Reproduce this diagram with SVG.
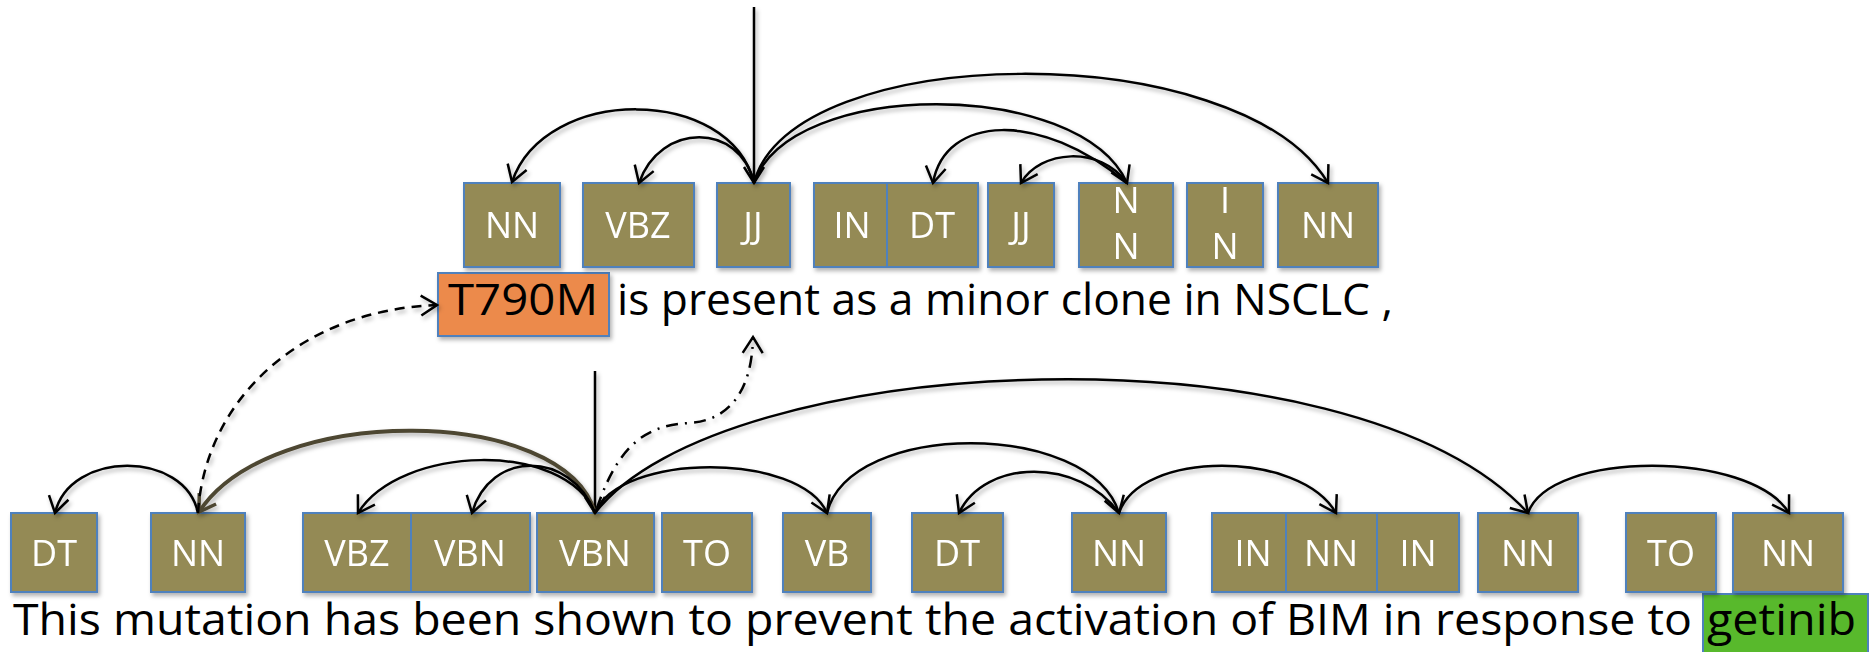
<svg xmlns="http://www.w3.org/2000/svg" width="1869" height="652" viewBox="0 0 1869 652">
  <style>
    .tag rect { fill: #948A54; stroke: #4F81BD; stroke-width: 2; }
    .tag text { fill: #FFFFFF; font-family: "Open Sans", "Noto Sans", sans-serif; font-size: 36px; text-anchor: middle; }
    .arc { fill: none; stroke: #000000; stroke-width: 2.5; marker-end: url(#head); }
    .dep { fill: none; stroke: #4D4631; stroke-width: 4; marker-end: url(#headBrown); }
    .dash { stroke-dasharray: 10 7; }
    .dashdot { stroke-dasharray: 12 7 2 7; }
    .sent { font-family: "Open Sans", "Noto Sans", sans-serif; font-size: 43px; fill: #000000; }
    .hl { stroke: #4F81BD; stroke-width: 2; }
  </style>
  <defs>
    <marker id="head" viewBox="-2 -2 20 24" refX="16" refY="10" markerWidth="20" markerHeight="24" markerUnits="userSpaceOnUse" orient="auto" overflow="visible">
      <path d="M0,0 L16,10 L0,20" fill="none" stroke="#000000" stroke-width="2.5" stroke-linejoin="miter"/>
    </marker>
    <marker id="headBrown" viewBox="-2 -2 20 24" refX="16" refY="10" markerWidth="20" markerHeight="24" markerUnits="userSpaceOnUse" orient="auto" overflow="visible">
      <path d="M0,0 L16,10 L0,20" fill="none" stroke="#4D4631" stroke-width="3.5"/>
    </marker>
    <filter id="shadow" x="-5%" y="-10%" width="110%" height="130%">
      <feDropShadow dx="2" dy="3" stdDeviation="2" flood-color="#000000" flood-opacity="0.3"/>
    </filter>
  </defs>

  <!-- sentence highlights -->
  <rect class="hl" x="438" y="273" width="171" height="63" fill="#EC8A4B" filter="url(#shadow)"/>
  <rect class="hl" x="1703" y="594" width="165" height="62" fill="#58B92C"/>

  <!-- upper parse: tag nodes -->
  <g filter="url(#shadow)">
    <g id="u1" class="tag"><rect x="464" y="183" width="96" height="84"/><text x="512" y="238">NN</text></g>
    <g id="u2" class="tag"><rect x="583" y="183" width="111" height="84"/><text x="638" y="238">VBZ</text></g>
    <g id="u3" class="tag"><rect x="717" y="183" width="73" height="84"/><text x="753" y="238">JJ</text></g>
    <g id="u4" class="tag"><rect x="814" y="183" width="79" height="84"/><text x="852" y="238">IN</text></g>
    <g id="u5" class="tag"><rect x="887" y="183" width="91" height="84"/><text x="932" y="238">DT</text></g>
    <g id="u6" class="tag"><rect x="988" y="183" width="66" height="84"/><text x="1021" y="238">JJ</text></g>
    <g id="u7" class="tag"><rect x="1079" y="183" width="94" height="84"/><text x="1126" y="213">N<tspan x="1126" y="259">N</tspan></text></g>
    <g id="u8" class="tag"><rect x="1187" y="183" width="76" height="84"/><text x="1225" y="213">I<tspan x="1225" y="259">N</tspan></text></g>
    <g id="u9" class="tag"><rect x="1278" y="183" width="100" height="84"/><text x="1328" y="238">NN</text></g>
  </g>

  <!-- lower parse: tag nodes -->
  <g filter="url(#shadow)">
    <g id="l1" class="tag"><rect x="11" y="513" width="86" height="79"/><text x="54" y="566">DT</text></g>
    <g id="l2" class="tag"><rect x="151" y="513" width="94" height="79"/><text x="198" y="566">NN</text></g>
    <g id="l3" class="tag"><rect x="303" y="513" width="108" height="79"/><text x="357" y="566">VBZ</text></g>
    <g id="l4" class="tag"><rect x="411" y="513" width="119" height="79"/><text x="470" y="566">VBN</text></g>
    <g id="l5" class="tag"><rect x="537" y="513" width="117" height="79"/><text x="595" y="566">VBN</text></g>
    <g id="l6" class="tag"><rect x="662" y="513" width="90" height="79"/><text x="707" y="566">TO</text></g>
    <g id="l7" class="tag"><rect x="783" y="513" width="88" height="79"/><text x="827" y="566">VB</text></g>
    <g id="l8" class="tag"><rect x="912" y="513" width="91" height="79"/><text x="957" y="566">DT</text></g>
    <g id="l9" class="tag"><rect x="1072" y="513" width="94" height="79"/><text x="1119" y="566">NN</text></g>
    <g id="l10" class="tag"><rect x="1212" y="513" width="78" height="79"/><text x="1253" y="566">IN</text></g>
    <g id="l11" class="tag"><rect x="1286" y="513" width="91" height="79"/><text x="1331" y="566">NN</text></g>
    <g id="l12" class="tag"><rect x="1377" y="513" width="82" height="79"/><text x="1418" y="566">IN</text></g>
    <g id="l13" class="tag"><rect x="1478" y="513" width="100" height="79"/><text x="1528" y="566">NN</text></g>
    <g id="l14" class="tag"><rect x="1626" y="513" width="90" height="79"/><text x="1671" y="566">TO</text></g>
    <g id="l15" class="tag"><rect x="1733" y="513" width="110" height="79"/><text x="1788" y="566">NN</text></g>
  </g>

  <!-- dependency arcs -->
  <g id="connectors" filter="url(#shadow)">
    <!-- upper sentence -->
    <path class="arc" d="M754 7 L754 183"/>
    <path class="arc" d="M754 183 C730 85, 545 85, 512 182"/>
    <path class="arc" d="M754 183 C740 122, 660 122, 639 183"/>
    <path class="arc" d="M754 183 C790 78, 1080 78, 1127 183"/>
    <path class="arc" d="M754 183 C790 40, 1240 35, 1328 183"/>
    <path class="arc" d="M1127 183 C1040 110, 945 115, 933 183"/>
    <path class="arc" d="M1127 183 C1100 145, 1040 150, 1021 183"/>

    <!-- lower sentence -->
    <path class="arc" d="M595 371 L595 513"/>
    <path class="arc" d="M198 513 C185 450, 70 450, 55 513"/>
    <path class="dep" d="M595 513 C565 405, 270 402, 199 512"/>
    <path class="arc" d="M595 513 C565 440, 400 445, 358 513"/>
    <path class="arc" d="M595 513 C570 450, 490 450, 472 513"/>
    <path class="arc" d="M595 513 C620 452, 800 452, 827 513"/>
    <path class="arc" d="M827 513 C850 420, 1090 420, 1119 513"/>
    <path class="arc" d="M1119 513 C1080 458, 985 458, 959 513"/>
    <path class="arc" d="M1119 513 C1140 450, 1300 450, 1336 513"/>
    <path class="arc" d="M595 513 C720 350, 1350 320, 1528 513"/>
    <path class="arc" d="M1528 513 C1550 450, 1750 450, 1789 513"/>

    <!-- links between the two sentences -->
    <path class="arc dash" d="M198 513 C205 400, 300 310, 437 305"/>
    <path class="arc dashdot" d="M597 508 C620 440, 650 425, 690 423 C730 420, 752 390, 753 337"/>
  </g>

  <!-- sentences -->
  <g id="sentences">
    <text class="sent" x="448" y="315" textLength="150" lengthAdjust="spacingAndGlyphs">T790M</text>
    <text class="sent" x="617" y="315" textLength="776" lengthAdjust="spacingAndGlyphs">is present as a minor clone in NSCLC ,</text>
    <text class="sent" x="13" y="635" textLength="1679" lengthAdjust="spacingAndGlyphs">This mutation has been shown to prevent the activation of BIM in response to</text>
    <text class="sent" x="1707" y="635" textLength="149" lengthAdjust="spacingAndGlyphs">getinib</text>
  </g>
</svg>
